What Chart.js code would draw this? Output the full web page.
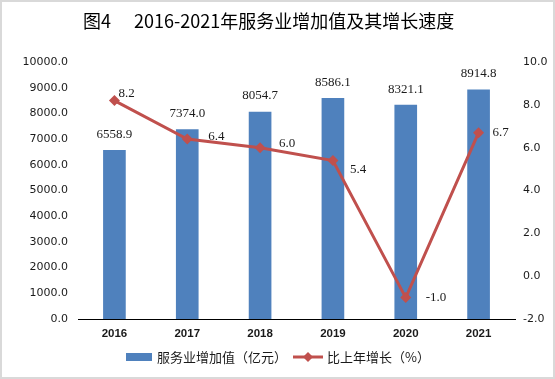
<!DOCTYPE html>
<html>
<head>
<meta charset="utf-8">
<script src="https://cdn.jsdelivr.net/npm/chart.js@4/dist/chart.umd.min.js"></script>
<style>
html,body{margin:0;padding:0;background:#fff;}
canvas{display:block;}
</style>
</head>
<body>
<canvas id="c" width="555" height="379"></canvas>
<script>
const categories = ['2016','2017','2018','2019','2020','2021'];
const serviceValue = [6558.9, 7374.0, 8054.7, 8586.1, 8321.1, 8914.8];
const growthRate = [8.2, 6.4, 6.0, 5.4, -1.0, 6.7];
const leftTicks = [0,1000,2000,3000,4000,5000,6000,7000,8000,9000,10000];
const rightTicks = [-2,0,2,4,6,8,10];
const titlePrefix = '图4';
const titleText = '2016-2021年服务业增加值及其增长速度';
const barLegend = '服务业增加值（亿元）';
const lineLegend = '比上年增长（%）';

const BAR = '#4F81BD', LINE = '#C0504D', TXT = '#1a1a1a';
const lineLabelOffsets = [[4,-7],[21,-3],[19,-4],[17,9],[20,0],[14,0]];

const decor = {
  id: 'decor',
  afterDatasetsDraw(chart) {
    const ctx = chart.ctx;
    ctx.save();
    ctx.fillStyle = TXT;
    ctx.font = '13px "Liberation Serif", "Times New Roman", serif';
    ctx.textBaseline = 'middle';
    const mb = chart.getDatasetMeta(0);
    mb.data.forEach((el, i) => {
      ctx.textAlign = 'center';
      ctx.fillText(serviceValue[i].toFixed(1), el.x, el.y - 16);
    });
    const ml = chart.getDatasetMeta(1);
    ml.data.forEach((el, i) => {
      const o = lineLabelOffsets[i];
      ctx.textAlign = 'left';
      ctx.fillText(growthRate[i].toFixed(1), el.x + o[0], el.y + o[1]);
    });
    ctx.restore();
  },
  afterDraw(chart) {
    const ctx = chart.ctx;
    ctx.save();
    // border
    ctx.strokeStyle = '#D9D9D9';
    ctx.lineWidth = 2;
    ctx.strokeRect(1, 1, 553, 377);
    // title
    ctx.fillStyle = '#000';
    ctx.textBaseline = 'middle';
    ctx.textAlign = 'left';
    ctx.font = '18px "Noto Sans CJK SC", sans-serif';
    ctx.fillText(titlePrefix, 83, 21);
    ctx.fillText(titleText, 134, 21);
    // legend
    const ly = 357;
    ctx.fillStyle = BAR;
    ctx.fillRect(126, ly - 4, 26, 8);
    ctx.fillStyle = TXT;
    ctx.font = '13px "Noto Sans CJK SC", sans-serif';
    ctx.fillText(barLegend, 157, ly);
    ctx.strokeStyle = LINE;
    ctx.lineWidth = 3;
    ctx.beginPath(); ctx.moveTo(293, ly); ctx.lineTo(323, ly); ctx.stroke();
    ctx.fillStyle = LINE;
    ctx.beginPath();
    ctx.moveTo(308, ly - 5); ctx.lineTo(313, ly); ctx.lineTo(308, ly + 5); ctx.lineTo(303, ly); ctx.closePath(); ctx.fill();
    ctx.fillStyle = TXT;
    ctx.fillText(lineLegend, 327, ly);
    ctx.restore();
  }
};

new Chart(document.getElementById('c'), {
  type: 'bar',
  data: {
    labels: categories,
    datasets: [
      { type: 'bar', label: barLegend, data: serviceValue, backgroundColor: BAR, barThickness: 22, yAxisID: 'y', order: 2 },
      { type: 'line', label: lineLegend, data: growthRate, borderColor: LINE, backgroundColor: LINE, borderWidth: 3,
        pointStyle: 'rectRot', pointRadius: 5.5, pointBackgroundColor: LINE, pointBorderColor: LINE, pointBorderWidth: 0,
        tension: 0, yAxisID: 'y1', order: 1 }
    ]
  },
  options: {
    responsive: false,
    animation: false,
    devicePixelRatio: 1,
    layout: { padding: { top: 62, bottom: 34, left: 0, right: 0 } },
    plugins: { legend: { display: false }, title: { display: false }, tooltip: { enabled: false } },
    scales: {
      x: {
        offset: true,
        grid: { display: false, drawTicks: false },
        border: { display: true, color: '#000', width: 1 },
        ticks: { color: TXT, padding: 8, font: { family: '"Liberation Sans", Arial, sans-serif', size: 11.5, weight: 'bold' } },
        afterFit(s) { s.height = 26; }
      },
      y: {
        position: 'left',
        min: 0, max: 10000,
        afterBuildTicks(s) { s.ticks = leftTicks.map(v => ({ value: v })); },
        grid: { display: false, drawTicks: false },
        border: { display: false },
        ticks: { color: TXT, padding: 10, font: { family: '"DejaVu Sans", sans-serif', size: 11 }, callback: v => Number(v).toFixed(1) },
        afterFit(s) { s.width = 78; }
      },
      y1: {
        position: 'right',
        min: -2, max: 10,
        afterBuildTicks(s) { s.ticks = rightTicks.map(v => ({ value: v })); },
        grid: { display: false, drawTicks: false },
        border: { display: false },
        ticks: { color: TXT, padding: 8, font: { family: '"DejaVu Sans", sans-serif', size: 11 }, callback: v => Number(v).toFixed(1) },
        afterFit(s) { s.width = 40; }
      }
    }
  },
  plugins: [decor]
});
</script>
</body>
</html>
